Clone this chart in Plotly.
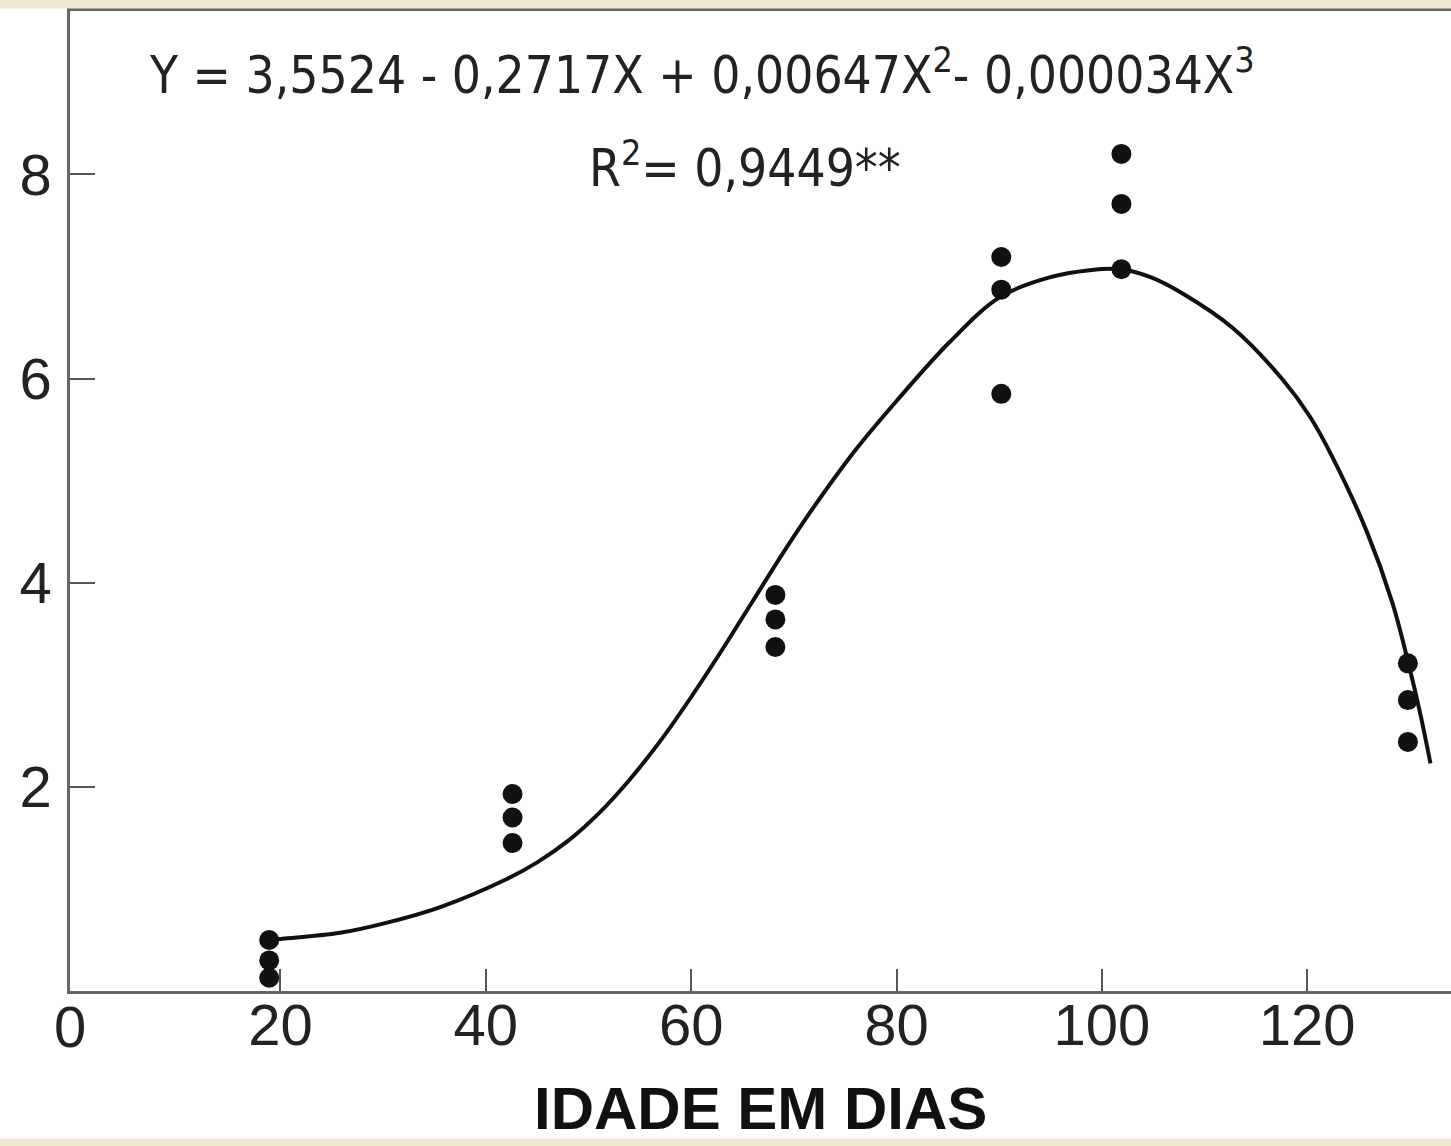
import plotly.graph_objects as go

dot_x = [18.9, 18.9, 18.9, 42.6, 42.6, 42.6, 68.2, 68.2, 68.2,
         90.2, 90.2, 90.2, 101.9, 101.9, 101.9, 129.8, 129.8, 129.8]
dot_y = [0.50, 0.30, 0.13, 1.93, 1.70, 1.45, 3.88, 3.64, 3.37,
         7.19, 6.87, 5.85, 8.20, 7.71, 7.07, 3.21, 2.85, 2.44]

# Fitted curve
curve_x = [18.9, 20.0, 25.8, 30.0, 35.5, 42.1, 45.0, 48.0, 51.0, 54.0, 57.0,
           60.0, 63.0, 66.0, 69.0, 72.0, 76.0, 80.0, 85.2, 90.1, 94.9,
           98.8, 101.8, 104.8, 107.9, 112.8, 117.6, 120.3, 122.5, 125.8,
           128.3, 130.0, 131.0, 132.0]
curve_y = [0.50, 0.51, 0.57, 0.66, 0.82, 1.10, 1.26, 1.47, 1.74, 2.07, 2.45,
           2.88, 3.34, 3.82, 4.30, 4.75, 5.30, 5.78, 6.36, 6.80, 6.99,
           7.06, 7.07, 6.99, 6.83, 6.49, 5.99, 5.62, 5.22, 4.50,
           3.80, 3.15, 2.72, 2.23]

x_ticks = [20, 40, 60, 80, 100, 120]
x_zero_label = "0"
y_ticks = [2, 4, 6, 8]

equation = "Y = 3,5524 - 0,2717X + 0,00647X<sup>2</sup>- 0,000034X<sup>3</sup>"
r2_text = "R<sup>2</sup>= 0,9449**"
x_title = "IDADE EM DIAS"

fig = go.Figure()
fig.add_trace(go.Scatter(x=curve_x, y=curve_y, mode="lines",
                         line=dict(color="#111111", width=4, shape="spline", smoothing=1.0),
                         showlegend=False, hoverinfo="skip"))
fig.add_trace(go.Scatter(x=dot_x, y=dot_y, mode="markers",
                         marker=dict(color="#111111", size=20),
                         showlegend=False))

tick_font = dict(family="Liberation Sans, Arial, sans-serif", size=58, color="#222222")
cond_font = "Liberation Sans Narrow, DejaVu Sans Condensed, Roboto, sans-serif"

fig.update_layout(
    width=1451, height=1146,
    margin=dict(l=70, r=0, t=11, b=155),
    paper_bgcolor="white", plot_bgcolor="white",
    xaxis=dict(range=[-0.5, 134], tickvals=x_ticks, ticktext=[str(v) for v in x_ticks],
               ticks="inside", ticklen=22, tickwidth=1.5, tickcolor="#555555",
               showline=True, linecolor="#666666", linewidth=2.5, mirror=True,
               showgrid=False, zeroline=False, tickfont=tick_font,
               ticklabelstandoff=-18),
    yaxis=dict(range=[0, 9.6], tickvals=y_ticks, ticktext=[str(v) for v in y_ticks],
               ticks="inside", ticklen=25, tickwidth=1.5, tickcolor="#555555",
               showline=True, linecolor="#666666", linewidth=2.5,
               showgrid=False, zeroline=False, tickfont=tick_font,
               ticklabelstandoff=4),
    annotations=[
        dict(text=x_zero_label, xref="paper", yref="paper", x=0.0, y=-0.0367,
             xanchor="center", yanchor="middle", showarrow=False, font=tick_font),
        dict(text=equation, xref="paper", yref="paper", x=0.458, y=0.938,
             xanchor="center", yanchor="middle", showarrow=False,
             font=dict(family=cond_font, size=51, color="#222222")),
        dict(text=r2_text, xref="paper", yref="paper", x=0.489, y=0.843,
             xanchor="center", yanchor="middle", showarrow=False,
             font=dict(family=cond_font, size=51, color="#222222")),
        dict(text="<b>" + x_title + "</b>", xref="paper", yref="paper", x=0.5, y=-0.1195,
             xanchor="center", yanchor="middle", showarrow=False,
             font=dict(family="Liberation Sans, Arial, sans-serif", size=60, color="#111111")),
    ],
    shapes=[
        dict(type="rect", xref="paper", yref="paper", x0=-0.06, x1=1.0, y0=1.0025, y1=1.02,
             fillcolor="#f1e8d2", line=dict(width=0), layer="above"),
        dict(type="rect", xref="paper", yref="paper", x0=-0.06, x1=1.0, y0=-0.165, y1=-0.1505,
             fillcolor="#f1e8d2", line=dict(width=0), layer="above"),
    ],
)

fig.write_html("out.html")
